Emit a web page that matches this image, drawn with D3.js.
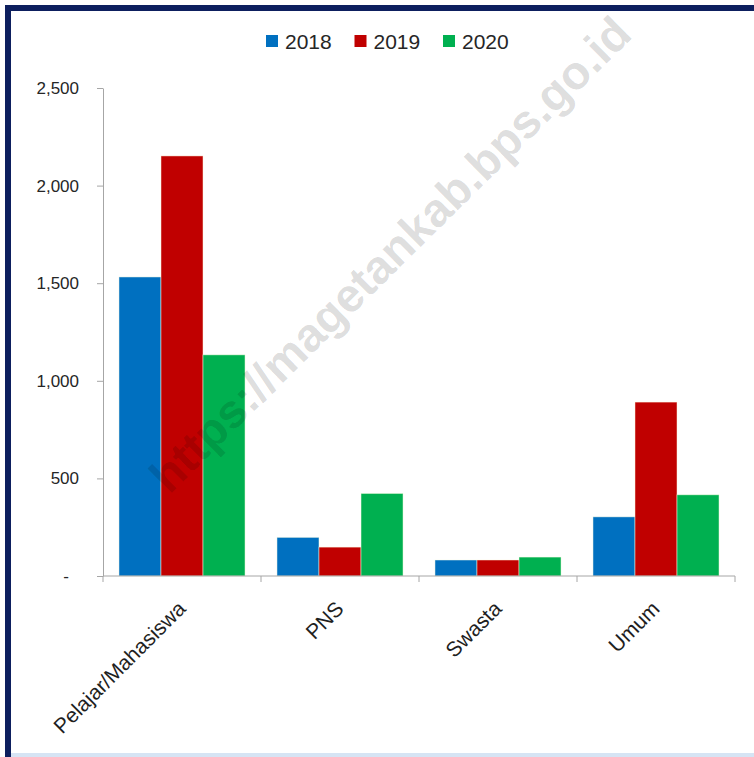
<!DOCTYPE html>
<html>
<head>
<meta charset="utf-8">
<script src="https://cdn.jsdelivr.net/npm/d3@7"></script>
<style>
  html, body { margin: 0; padding: 0; background: #fff; }
  svg { display: block; font-family: "Liberation Sans", Arial, sans-serif; }
</style>
</head>
<body>
<div id="chart"></div>
<script>
const categories = ['Pelajar/Mahasiswa', 'PNS', 'Swasta', 'Umum'];
const years = ['2018', '2019', '2020'];
const values2018 = [1532, 198, 82, 303];
const values2019 = [2152, 148, 82, 891];
const values2020 = [1133, 423, 97, 416];
const yTicks = [0, 500, 1000, 1500, 2000, 2500];
const COLORS = {'2018': '#0070C0', '2019': '#C00000', '2020': '#00B050'};

const width = 754, height = 757;
const seriesByYear = {'2018': values2018, '2019': values2019, '2020': values2020};

const svg = d3.select('#chart').append('svg')
    .attr('width', width)
    .attr('height', height)
    .attr('viewBox', `0 0 ${width} ${height}`);

// frame
svg.append('rect').attr('x', 0).attr('y', 0).attr('width', width).attr('height', height).attr('fill', '#fff');
svg.append('rect').attr('x', 5).attr('y', 5).attr('width', width - 5).attr('height', 6).attr('fill', '#0d1f5e');
svg.append('rect').attr('x', 5).attr('y', 5).attr('width', 6).attr('height', height - 5).attr('fill', '#0d1f5e');
svg.append('rect').attr('x', 11).attr('y', 753).attr('width', width - 11).attr('height', 4).attr('fill', '#d6e4f4');

const x = d3.scaleBand().domain(categories).range([103, 735]).padding(0);
const x1 = d3.scaleBand().domain(years).range([0, x.bandwidth()]).paddingInner(0).paddingOuter(0.38);
const y = d3.scaleLinear().domain([0, 2500]).range([576, 88]);

// y axis
const yAxis = svg.append('g')
    .attr('transform', `translate(${x.range()[0]},0)`)
    .call(d3.axisLeft(y).tickValues(yTicks).tickSize(6).tickSizeOuter(0).tickPadding(18)
        .tickFormat(d => d === 0 ? '-' : d3.format(',')(d)));
yAxis.select('.domain').attr('stroke', '#a6a6a6');
yAxis.selectAll('.tick line').attr('stroke', '#a6a6a6');
yAxis.selectAll('.tick text')
    .attr('fill', '#262626')
    .style('font-size', '17px')
    .attr('dx', d => d === 0 ? -10 : 0);

// bars
const groups = svg.append('g').selectAll('g')
    .data(categories)
    .join('g')
    .attr('transform', d => `translate(${x(d)},0)`);

groups.selectAll('rect')
    .data((c, i) => years.map(yr => ({year: yr, value: seriesByYear[yr][i]})))
    .join('rect')
    .attr('x', d => x1(d.year))
    .attr('width', x1.bandwidth())
    .attr('y', d => y(d.value))
    .attr('height', d => y(0) - y(d.value))
    .attr('fill', d => COLORS[d.year])
    .attr('stroke', 'rgba(255,255,230,0.6)')
    .attr('stroke-width', 0.8);

// x axis
const xg = svg.append('g');
xg.append('line')
    .attr('x1', x.range()[0]).attr('x2', x.range()[1])
    .attr('y1', y(0)).attr('y2', y(0))
    .attr('stroke', '#a6a6a6');
const bounds = categories.map(c => x(c)).concat([x.range()[1]]);
xg.selectAll('line.tick')
    .data(bounds)
    .join('line')
    .attr('class', 'tick')
    .attr('x1', d => d).attr('x2', d => d)
    .attr('y1', y(0)).attr('y2', y(0) + 6)
    .attr('stroke', '#a6a6a6');

xg.selectAll('text')
    .data(categories)
    .join('text')
    .attr('transform', d => `translate(${x(d) + x.bandwidth() / 2 + 5},610) rotate(-45)`)
    .attr('text-anchor', 'end')
    .attr('fill', '#1f1f1f')
    .style('font-size', '21px')
    .text(d => d);

// legend
const legend = svg.append('g').attr('transform', 'translate(266,41)');
const legendX = d3.scalePoint().domain(years).range([0, 177]);
const items = legend.selectAll('g')
    .data(years)
    .join('g')
    .attr('transform', d => `translate(${legendX(d)},0)`);
items.append('rect')
    .attr('x', 0).attr('y', -6)
    .attr('width', 12).attr('height', 12)
    .attr('fill', d => COLORS[d]);
items.append('text')
    .attr('x', 19).attr('y', 0)
    .attr('dy', '0.36em')
    .attr('fill', '#262626')
    .style('font-size', '21px')
    .text(d => d);

// watermark
svg.append('text')
    .attr('transform', 'translate(390,254) rotate(-44.6)')
    .attr('text-anchor', 'middle')
    .attr('dy', '0.35em')
    .attr('fill', '#000')
    .attr('fill-opacity', 0.14)
    .style('font-size', '47px')
    .style('font-weight', 'bold')
    .text('https://magetankab.bps.go.id');
</script>
</body>
</html>
